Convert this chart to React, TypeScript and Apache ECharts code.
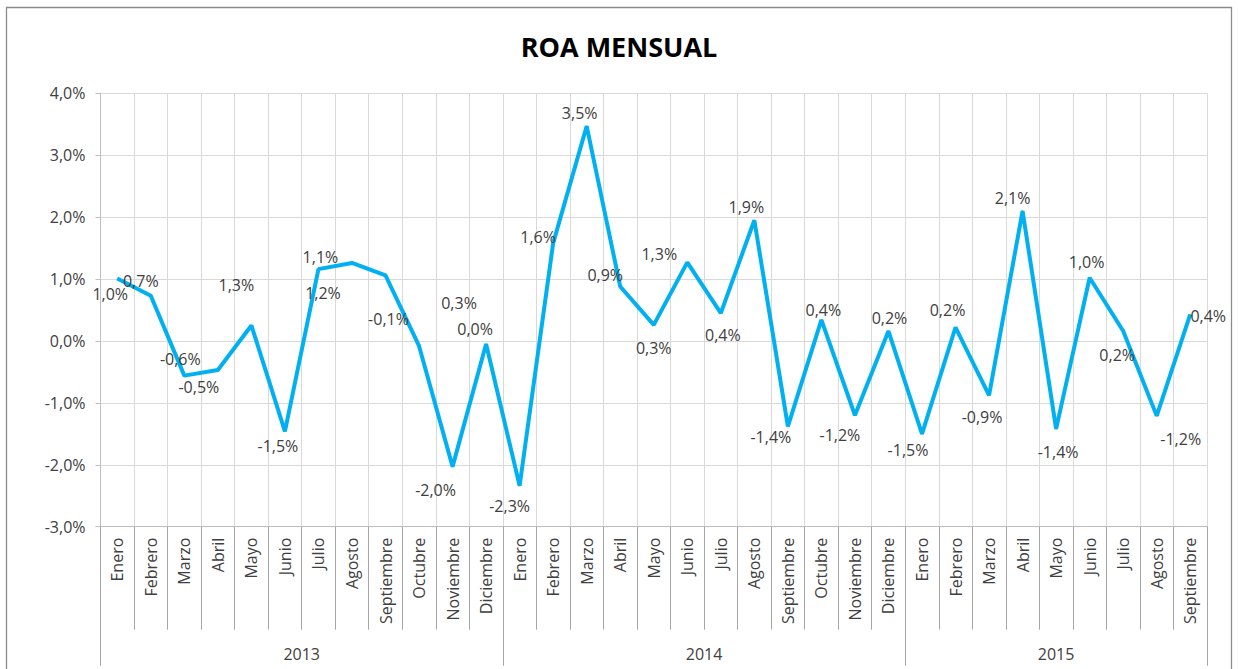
import React, { useEffect, useRef } from "react";
import * as echarts from "echarts";

const years = ["2013", "2014", "2015"];
const monthsPerYear = [12, 12, 9];
const monthNames = [
  "Enero", "Febrero", "Marzo", "Abril", "Mayo", "Junio",
  "Julio", "Agosto", "Septiembre", "Octubre", "Noviembre", "Diciembre",
];

// ROA mensual (%)
const roaValues = [
  1.01, 0.73, -0.56, -0.47, 0.25, -1.46, 1.16, 1.26, 1.06, -0.08, -2.03, -0.05,
  -2.34, 1.58, 3.47, 0.88, 0.26, 1.27, 0.45, 1.95, -1.38, 0.34, -1.2, 0.16,
  -1.5, 0.22, -0.88, 2.1, -1.42, 1.02, 0.16, -1.21, 0.43,
];

// data labels as printed on the chart
const labelTexts = [
  "1,0%", "0,7%", "-0,6%", "-0,5%", "1,3%", "-1,5%", "1,1%", "1,2%", "-0,1%", "0,3%", "-2,0%", "0,0%",
  "-2,3%", "1,6%", "3,5%", "0,9%", "0,3%", "1,3%", "0,4%", "1,9%", "-1,4%", "0,4%", "-1,2%", "0,2%",
  "-1,5%", "0,2%", "-0,9%", "2,1%", "-1,4%", "1,0%", "0,2%", "-1,2%", "0,4%",
];

const yTicks = { min: -3, max: 4, interval: 1 };

// label placement (layout only)
const labelOffsets: [number, number][] = [
  [-7, 16], [-10, -15], [-4, -17], [-19, 17], [-15, -40], [-7, 15], [2, -12], [-29, 30], [3, 44], [40, -43], [-17, 23], [-11, -15],
  [-10, 20], [-15, -6], [-7, -13], [-15, -11], [0, 23], [-28, -8], [2, 22], [-8, -13], [-17, 11], [2, -10], [-15, 20], [1, -13],
  [-14, 16], [-8, -17], [-7, 22], [-10, -13], [2, 23], [-3, -16], [-6, 24], [24, 23], [18, 2],
];

const categories: string[] = [];
years.forEach((_, yi) => {
  for (let m = 0; m < monthsPerYear[yi]; m++) categories.push(monthNames[m]);
});
const yearBounds: number[] = [0];
monthsPerYear.forEach((n, i) => yearBounds.push(yearBounds[i] + n));
const yearCenters = monthsPerYear.map((n, i) => yearBounds[i] + n / 2);

const FONT = "'Open Sans', 'Noto Sans', sans-serif";
const TXT = "#404040";

export default function App() {
  const ref = useRef<HTMLDivElement>(null);
  useEffect(() => {
    if (!ref.current) return;
    const chart = echarts.init(ref.current, undefined, { renderer: "svg" });
    const fmt = (v: number) => v.toFixed(1).replace(".", ",") + "%";
    chart.setOption({
      animation: false,
      backgroundColor: "#ffffff",
      textStyle: { fontFamily: FONT },
      title: {
        text: "ROA MENSUAL",
        left: "center",
        top: 28,
        textStyle: { fontFamily: FONT, fontSize: 27, fontWeight: "bold", color: "#000" },
      },
      graphic: [
        {
          type: "rect",
          shape: { x: 6.5, y: 7.5, width: 1225, height: 700 },
          style: { fill: "none", stroke: "#8c8c8c", lineWidth: 1.3 },
          silent: true,
        },
      ],
      grid: { left: 100.5, right: 31, top: 93.3, bottom: 142.3, containLabel: false },
      xAxis: [
        {
          type: "category",
          data: categories,
          boundaryGap: true,
          axisLine: { show: true, onZero: false, lineStyle: { color: "#BFBFBF", width: 1 } },
          axisTick: { show: true, interval: 0, length: 103, lineStyle: { color: "#A6A6A6" } },
          splitLine: { show: true, interval: 0, lineStyle: { color: "#D9D9D9" } },
          axisLabel: {
            interval: 0,
            rotate: 90,
            margin: 11,
            fontSize: 16,
            color: TXT,
            fontFamily: FONT,
          },
        },
        {
          type: "value",
          position: "bottom",
          min: 0,
          max: yearBounds[yearBounds.length - 1],
          axisLine: { show: false, onZero: false },
          splitLine: { show: false },
          axisTick: {
            show: true,
            customValues: yearBounds,
            length: 139,
            lineStyle: { color: "#A6A6A6" },
          },
          axisLabel: {
            show: true,
            customValues: yearCenters,
            margin: 119,
            fontSize: 16,
            color: TXT,
            fontFamily: FONT,
            formatter: (v: number) => {
              const idx = yearCenters.findIndex((c) => Math.abs(c - v) < 1e-6);
              return idx >= 0 ? years[idx] : "";
            },
          },
        },
      ],
      yAxis: {
        type: "value",
        min: yTicks.min,
        max: yTicks.max,
        interval: yTicks.interval,
        axisLine: { show: true, lineStyle: { color: "#BFBFBF" } },
        axisTick: { show: true, length: 5, lineStyle: { color: "#BFBFBF" } },
        splitLine: { show: true, lineStyle: { color: "#D9D9D9" } },
        axisLabel: { formatter: fmt, fontSize: 16, color: TXT, margin: 15, fontFamily: FONT },
      },
      series: [
        {
          type: "line",
          xAxisIndex: 0,
          data: roaValues.map((v, i) => ({
            value: v,
            label: {
              show: true,
              position: "inside",
              offset: labelOffsets[i],
              formatter: labelTexts[i],
              fontSize: 16,
              color: TXT,
              fontFamily: FONT,
            },
          })),
          symbol: "circle",
          symbolSize: 1,
          showSymbol: true,
          itemStyle: { color: "#00B0F0" },
          lineStyle: { color: "#00B0F0", width: 4 },
        },
      ],
    });
    return () => chart.dispose();
  }, []);
  return (
    <div
      ref={ref}
      style={{ position: "fixed", left: 0, top: 0, width: 1238, height: 669 }}
    />
  );
}
